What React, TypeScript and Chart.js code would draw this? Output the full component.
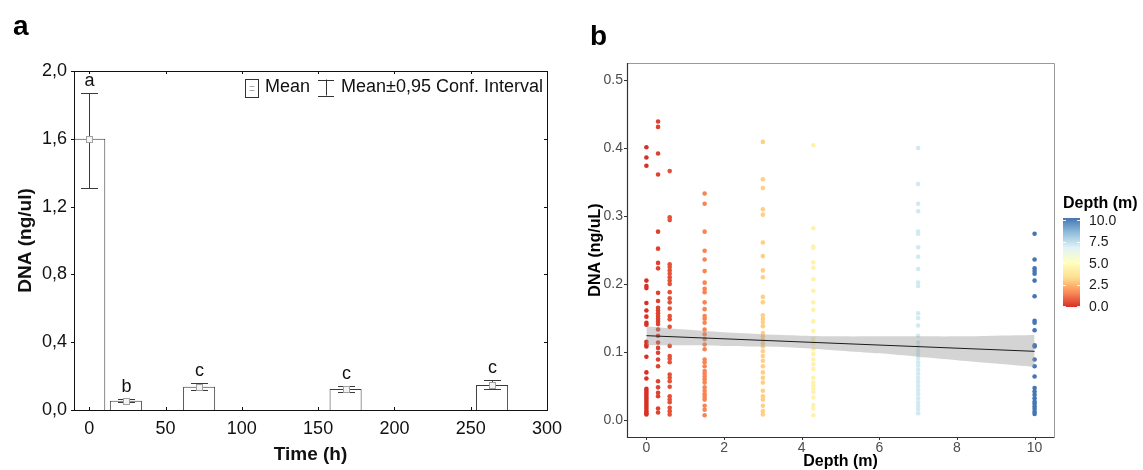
import React, { useEffect, useRef } from "react";
import { Chart, registerables } from "chart.js";

Chart.register(...registerables);

const FONT = "'Liberation Sans', Arial, Helvetica, sans-serif";

// ---------- Panel a: DNA over time (bars + 95% CI) ----------
const timesA = [0, 24, 72, 168, 264];
const meansA = [1.6, 0.055, 0.137, 0.124, 0.147];
const ciLowA = [1.31, 0.045, 0.118, 0.108, 0.126];
const ciHighA = [1.87, 0.065, 0.157, 0.141, 0.177];
const lettersA = ["a", "b", "c", "c", "c"];
const xTicksA = [0, 50, 100, 150, 200, 250, 300];
const yTicksA = [0, 0.4, 0.8, 1.2, 1.6, 2.0];

// ---------- Panel b: DNA vs depth (scatter + lm fit) ----------
const depthsB = [0, 0.3, 0.6, 1.5, 3, 4.3, 7, 10];
const dnaDepth0 = [0.401, 0.386, 0.374, 0.205, 0.197, 0.194, 0.172, 0.161, 0.152, 0.143, 0.14, 0.115, 0.111, 0.108, 0.093, 0.07, 0.061, 0.046, 0.043, 0.04, 0.037, 0.034, 0.031, 0.028, 0.025, 0.022, 0.019, 0.016, 0.013, 0.01, 0.008];
const dnaDepth03 = [0.439, 0.431, 0.392, 0.361, 0.277, 0.252, 0.231, 0.223, 0.187, 0.175, 0.165, 0.161, 0.157, 0.153, 0.149, 0.145, 0.141, 0.133, 0.124, 0.114, 0.106, 0.099, 0.089, 0.079, 0.057, 0.048, 0.04, 0.035, 0.017, 0.011];
const dnaDepth06 = [0.366, 0.298, 0.294, 0.229, 0.225, 0.22, 0.215, 0.21, 0.205, 0.2, 0.188, 0.179, 0.173, 0.164, 0.153, 0.148, 0.137, 0.109, 0.094, 0.09, 0.085, 0.067, 0.062, 0.057, 0.049, 0.035, 0.03, 0.026, 0.018, 0.013, 0.008];
const dnaDepth15 = [0.333, 0.318, 0.277, 0.249, 0.236, 0.219, 0.202, 0.193, 0.188, 0.173, 0.163, 0.153, 0.149, 0.143, 0.133, 0.126, 0.119, 0.111, 0.104, 0.089, 0.085, 0.079, 0.072, 0.068, 0.064, 0.06, 0.055, 0.048, 0.043, 0.038, 0.034, 0.03, 0.021, 0.015, 0.007];
const dnaDepth3 = [0.409, 0.354, 0.341, 0.31, 0.302, 0.261, 0.241, 0.22, 0.21, 0.181, 0.173, 0.154, 0.149, 0.144, 0.138, 0.128, 0.123, 0.118, 0.113, 0.108, 0.101, 0.094, 0.087, 0.079, 0.07, 0.062, 0.055, 0.043, 0.035, 0.03, 0.021, 0.013, 0.008];
const dnaDepth43 = [0.404, 0.282, 0.255, 0.253, 0.232, 0.224, 0.207, 0.19, 0.173, 0.162, 0.145, 0.131, 0.119, 0.113, 0.104, 0.097, 0.089, 0.082, 0.075, 0.062, 0.055, 0.051, 0.046, 0.041, 0.033, 0.022, 0.017, 0.007];
const dnaDepth7 = [0.4, 0.347, 0.318, 0.307, 0.277, 0.274, 0.254, 0.24, 0.222, 0.202, 0.197, 0.157, 0.15, 0.139, 0.124, 0.114, 0.108, 0.102, 0.097, 0.091, 0.085, 0.08, 0.074, 0.068, 0.062, 0.056, 0.05, 0.044, 0.038, 0.032, 0.026, 0.021, 0.016, 0.01];
const dnaDepth10 = [0.274, 0.236, 0.223, 0.219, 0.215, 0.205, 0.182, 0.146, 0.143, 0.132, 0.11, 0.108, 0.089, 0.079, 0.064, 0.047, 0.042, 0.037, 0.032, 0.027, 0.024, 0.02, 0.016, 0.012, 0.009];
const seriesB = [dnaDepth0, dnaDepth03, dnaDepth06, dnaDepth15, dnaDepth3, dnaDepth43, dnaDepth7, dnaDepth10];

const fitX = [0, 10];
const fitY = [0.124, 0.101];
const bandX = [0, 1, 2, 3, 4, 5, 6, 7, 8, 9, 10];
const bandUpper = [0.138, 0.133, 0.129, 0.126, 0.124, 0.123, 0.123, 0.123, 0.123, 0.124, 0.125];
const bandLower = [0.11, 0.11, 0.109, 0.108, 0.106, 0.102, 0.098, 0.093, 0.088, 0.083, 0.078];

const xTicksB = [0, 2, 4, 6, 8, 10];
const yTicksB = [0, 0.1, 0.2, 0.3, 0.4, 0.5];
const colorbarTicks = [0, 2.5, 5, 7.5, 10];
const colorRange = [0, 10];
const paletteStops = ["#d73027", "#fc8d59", "#fee090", "#ffffbf", "#e0f3f8", "#91bfdb", "#4575b4"];

function hexToRgb(h: string) {
  const n = parseInt(h.slice(1), 16);
  return [(n >> 16) & 255, (n >> 8) & 255, n & 255];
}
function depthColor(d: number) {
  const n = paletteStops.length - 1;
  const t = Math.max(0, Math.min(1, (d - colorRange[0]) / (colorRange[1] - colorRange[0]))) * n;
  const i = Math.min(Math.floor(t), n - 1);
  const f = t - i;
  const a = hexToRgb(paletteStops[i]);
  const b = hexToRgb(paletteStops[i + 1]);
  const c = a.map((v, k) => Math.round(v + (b[k] - v) * f));
  return `rgb(${c[0]},${c[1]},${c[2]})`;
}

const panelAPlugin = {
  id: "panelA",
  afterDatasetsDraw(chart: any) {
    const { ctx, chartArea, scales } = chart;
    const { left, right, top, bottom } = chartArea;
    const x = scales.x;
    const y = scales.y;
    ctx.save();
    // error bars, markers, letters
    timesA.forEach((t, i) => {
      const px = Math.round(x.getPixelForValue(t)) + 0.5;
      const yl = Math.round(y.getPixelForValue(ciLowA[i])) + 0.5;
      const yh = Math.round(y.getPixelForValue(ciHighA[i])) + 0.5;
      ctx.strokeStyle = "#3a3a3a";
      ctx.lineWidth = 1;
      ctx.beginPath();
      ctx.moveTo(px, yl);
      ctx.lineTo(px, yh);
      ctx.moveTo(px - 8.5, yl);
      ctx.lineTo(px + 8.5, yl);
      ctx.moveTo(px - 8.5, yh);
      ctx.lineTo(px + 8.5, yh);
      ctx.stroke();
      const ym = Math.round(y.getPixelForValue(meansA[i])) + 0.5;
      ctx.fillStyle = "#f4f4f4";
      ctx.strokeStyle = "#a0a0a0";
      ctx.fillRect(px - 3, ym - 3, 6, 6);
      ctx.strokeRect(px - 3, ym - 3, 6, 6);
      ctx.fillStyle = "#111";
      ctx.font = `18px ${FONT}`;
      ctx.textAlign = "center";
      ctx.textBaseline = "middle";
      ctx.fillText(lettersA[i], px, yh - 12);
    });
    // frame
    ctx.strokeStyle = "#111";
    ctx.lineWidth = 1;
    ctx.strokeRect(Math.round(left) + 0.5, Math.round(top) + 0.5, Math.round(right - left), Math.round(bottom - top));
    ctx.beginPath();
    xTicksA.forEach((v) => {
      const px = Math.round(x.getPixelForValue(v)) + 0.5;
      ctx.moveTo(px, bottom);
      ctx.lineTo(px, bottom - 3);
      ctx.moveTo(px, top);
      ctx.lineTo(px, top + 3);
    });
    yTicksA.forEach((v) => {
      const py = Math.round(y.getPixelForValue(v)) + 0.5;
      ctx.moveTo(left - 3, py);
      ctx.lineTo(left, py);
      ctx.moveTo(right, py);
      ctx.lineTo(right - 3, py);
    });
    ctx.stroke();
    // legend
    ctx.font = `18px ${FONT}`;
    ctx.textAlign = "left";
    ctx.textBaseline = "middle";
    ctx.fillStyle = "#111";
    const cy = top + 16.5;
    let cx = right - 4;
    const t2 = "Mean\u00b10,95 Conf. Interval";
    cx -= ctx.measureText(t2).width;
    ctx.fillText(t2, cx, cy);
    const iR = cx - 7;
    const iL = iR - 16;
    const iC = Math.round((iL + iR) / 2) + 0.5;
    ctx.strokeStyle = "#333";
    ctx.beginPath();
    ctx.moveTo(iC, cy - 8);
    ctx.lineTo(iC, cy + 8);
    ctx.moveTo(iL, Math.round(cy - 8) + 0.5);
    ctx.lineTo(iR, Math.round(cy - 8) + 0.5);
    ctx.moveTo(iL, Math.round(cy + 8) + 0.5);
    ctx.lineTo(iR, Math.round(cy + 8) + 0.5);
    ctx.stroke();
    const t1 = "Mean";
    cx = iL - 8 - ctx.measureText(t1).width;
    ctx.fillText(t1, cx, cy);
    const bR = cx - 7;
    const bL = Math.round(bR - 13) + 0.5;
    ctx.strokeStyle = "#333";
    ctx.strokeRect(bL, Math.round(cy - 9) + 0.5, 13, 18);
    ctx.strokeStyle = "#aaa";
    ctx.beginPath();
    ctx.moveTo(bL + 4, Math.round(cy) - 1.5);
    ctx.lineTo(bL + 9, Math.round(cy) - 1.5);
    ctx.moveTo(bL + 4, Math.round(cy) + 2.5);
    ctx.lineTo(bL + 9, Math.round(cy) + 2.5);
    ctx.stroke();
    // panel letter
    ctx.fillStyle = "#000";
    ctx.font = `bold 28px ${FONT}`;
    ctx.textBaseline = "alphabetic";
    ctx.fillText("a", 13, 35);
    ctx.restore();
  },
};

const panelBPlugin = {
  id: "panelB",
  afterDraw(chart: any) {
    const { ctx, chartArea, scales } = chart;
    const { left, right, top, bottom } = chartArea;
    const x = scales.x;
    const y = scales.y;
    ctx.save();
    ctx.lineWidth = 1;
    // top & right border
    ctx.strokeStyle = "#9a9a9a";
    ctx.beginPath();
    ctx.moveTo(left, Math.round(top) + 0.5);
    ctx.lineTo(Math.round(right) + 0.5, Math.round(top) + 0.5);
    ctx.lineTo(Math.round(right) + 0.5, bottom);
    ctx.stroke();
    // axis lines
    ctx.strokeStyle = "#333";
    ctx.lineWidth = 1.2;
    ctx.beginPath();
    ctx.moveTo(Math.round(left) + 0.5, top);
    ctx.lineTo(Math.round(left) + 0.5, Math.round(bottom) + 0.5);
    ctx.lineTo(right + 0.5, Math.round(bottom) + 0.5);
    ctx.stroke();
    ctx.lineWidth = 1;
    ctx.beginPath();
    xTicksB.forEach((v) => {
      const px = Math.round(x.getPixelForValue(v)) + 0.5;
      ctx.moveTo(px, bottom);
      ctx.lineTo(px, bottom + 3);
    });
    yTicksB.forEach((v) => {
      const py = Math.round(y.getPixelForValue(v)) + 0.5;
      ctx.moveTo(left, py);
      ctx.lineTo(left - 3, py);
    });
    ctx.stroke();
    // colour legend
    const barL = right + 9;
    const barW = 17;
    const barTop = 218;
    const barBot = 307;
    const grad = ctx.createLinearGradient(0, barBot, 0, barTop);
    paletteStops.forEach((c, i) => grad.addColorStop(i / (paletteStops.length - 1), c));
    ctx.fillStyle = grad;
    ctx.fillRect(barL, barTop, barW, barBot - barTop);
    ctx.fillStyle = "#000";
    ctx.font = `bold 16px ${FONT}`;
    ctx.textAlign = "left";
    ctx.textBaseline = "middle";
    ctx.fillText("Depth (m)", barL, 204);
    ctx.font = `14px ${FONT}`;
    ctx.fillStyle = "#1a1a1a";
    const vTop = barTop + 2;
    const vBot = barBot - 1;
    colorbarTicks.forEach((v) => {
      const py = vBot - ((v - colorRange[0]) / (colorRange[1] - colorRange[0])) * (vBot - vTop);
      ctx.fillText(v.toFixed(1), barL + barW + 9, py + 1);
      ctx.strokeStyle = "rgba(255,255,255,0.9)";
      ctx.beginPath();
      ctx.moveTo(barL, Math.round(py) + 0.5);
      ctx.lineTo(barL + 3, Math.round(py) + 0.5);
      ctx.moveTo(barL + barW - 3, Math.round(py) + 0.5);
      ctx.lineTo(barL + barW, Math.round(py) + 0.5);
      ctx.stroke();
    });
    // panel letter
    ctx.fillStyle = "#000";
    ctx.font = `bold 28px ${FONT}`;
    ctx.textBaseline = "alphabetic";
    ctx.fillText("b", 15, 45);
    ctx.restore();
  },
};

export default function App() {
  const refA = useRef<HTMLCanvasElement>(null);
  const refB = useRef<HTMLCanvasElement>(null);

  useEffect(() => {
    const chartA = new Chart(refA.current as HTMLCanvasElement, {
      type: "bar",
      data: {
        datasets: [
          {
            data: timesA.map((t, i) => ({ x: t, y: meansA[i] })),
            backgroundColor: "#ffffff",
            borderColor: "#3a3a3a",
            borderWidth: 1,
            barPercentage: 1,
            categoryPercentage: 0.875,
          } as any,
        ],
      },
      options: {
        responsive: false,
        maintainAspectRatio: false,
        animation: false,
        events: [],
        layout: { padding: { left: 0, top: 71, right: 28, bottom: 0 } },
        plugins: { legend: { display: false }, tooltip: { enabled: false } },
        scales: {
          x: {
            type: "linear",
            min: -10,
            max: 300,
            offset: false,
            afterBuildTicks: (s: any) => {
              s.ticks = xTicksA.map((v) => ({ value: v }));
            },
            afterFit: (s: any) => {
              s.height = 60;
            },
            grid: { display: false, drawTicks: false },
            border: { display: false },
            ticks: {
              padding: 8,
              autoSkip: false,
              maxRotation: 0,
              color: "#111",
              font: { size: 18, family: FONT },
              callback: (v: any) => String(v),
            },
            title: {
              display: true,
              text: "Time (h)",
              color: "#111",
              font: { size: 19, weight: "bold", family: FONT },
              padding: { top: 0, bottom: 4 },
            },
          },
          y: {
            min: 0,
            max: 2,
            afterBuildTicks: (s: any) => {
              s.ticks = yTicksA.map((v) => ({ value: v }));
            },
            afterFit: (s: any) => {
              s.width = 74;
            },
            grid: { display: false, drawTicks: false },
            border: { display: false },
            ticks: {
              padding: 7,
              color: "#111",
              font: { size: 18, family: FONT },
              callback: (v: any) => Number(v).toFixed(1).replace(".", ","),
            },
            title: {
              display: true,
              text: "DNA (ng/ul)",
              color: "#111",
              font: { size: 19, weight: "bold", family: FONT },
              padding: { top: 14, bottom: 0 },
            },
          },
        },
      } as any,
      plugins: [panelAPlugin],
    });

    const chartB = new Chart(refB.current as HTMLCanvasElement, {
      type: "scatter",
      data: {
        datasets: [
          {
            type: "line",
            data: fitX.map((v, i) => ({ x: v, y: fitY[i] })),
            borderColor: "#1a1a1a",
            borderWidth: 1,
            pointRadius: 0,
            fill: false,
          } as any,
          {
            type: "line",
            data: bandX.map((v, i) => ({ x: v, y: bandUpper[i] })),
            borderColor: "rgba(0,0,0,0)",
            borderWidth: 0,
            pointRadius: 0,
            tension: 0.3,
            backgroundColor: "rgba(153,153,153,0.42)",
            fill: "+1",
          } as any,
          {
            type: "line",
            data: bandX.map((v, i) => ({ x: v, y: bandLower[i] })),
            borderColor: "rgba(0,0,0,0)",
            borderWidth: 0,
            pointRadius: 0,
            tension: 0.3,
            fill: false,
          } as any,
          ...depthsB.map((d, i) => ({
            data: seriesB[i].map((v) => ({ x: d, y: v })),
            backgroundColor: depthColor(d),
            borderWidth: 0,
            pointRadius: 2.3,
          })),
        ],
      },
      options: {
        responsive: false,
        maintainAspectRatio: false,
        animation: false,
        events: [],
        layout: { padding: { left: 0, top: 63, right: 89, bottom: 0 } },
        plugins: { legend: { display: false }, tooltip: { enabled: false } },
        scales: {
          x: {
            type: "linear",
            min: -0.5,
            max: 10.5,
            afterBuildTicks: (s: any) => {
              s.ticks = xTicksB.map((v) => ({ value: v }));
            },
            afterFit: (s: any) => {
              s.height = 33;
            },
            grid: { display: false, drawTicks: false },
            border: { display: false },
            ticks: {
              padding: 3,
              autoSkip: false,
              maxRotation: 0,
              color: "#4d4d4d",
              font: { size: 14, family: FONT },
              callback: (v: any) => String(v),
            },
            title: {
              display: true,
              text: "Depth (m)",
              color: "#000",
              font: { size: 16, weight: "bold", family: FONT, lineHeight: 1.1 },
              padding: { top: 0, bottom: 0 },
            },
          },
          y: {
            min: -0.025,
            max: 0.525,
            afterBuildTicks: (s: any) => {
              s.ticks = yTicksB.map((v) => ({ value: v }));
            },
            afterFit: (s: any) => {
              s.width = 52;
            },
            grid: { display: false, drawTicks: false },
            border: { display: false },
            ticks: {
              padding: 4,
              color: "#4d4d4d",
              font: { size: 14, family: FONT },
              callback: (v: any) => Number(v).toFixed(1),
            },
            title: {
              display: true,
              text: "DNA (ng/uL)",
              color: "#000",
              font: { size: 16, weight: "bold", family: FONT },
              padding: { top: 11, bottom: 0 },
            },
          },
        },
      } as any,
      plugins: [panelBPlugin],
    });

    return () => {
      chartA.destroy();
      chartB.destroy();
    };
  }, []);

  return (
    <div style={{ position: "fixed", left: 0, top: 0, width: 1143, height: 470, background: "#ffffff" }}>
      <canvas ref={refA} width={575} height={470} style={{ position: "absolute", left: 0, top: 0, width: 575, height: 470 }} />
      <canvas ref={refB} width={568} height={470} style={{ position: "absolute", left: 575, top: 0, width: 568, height: 470 }} />
    </div>
  );
}
